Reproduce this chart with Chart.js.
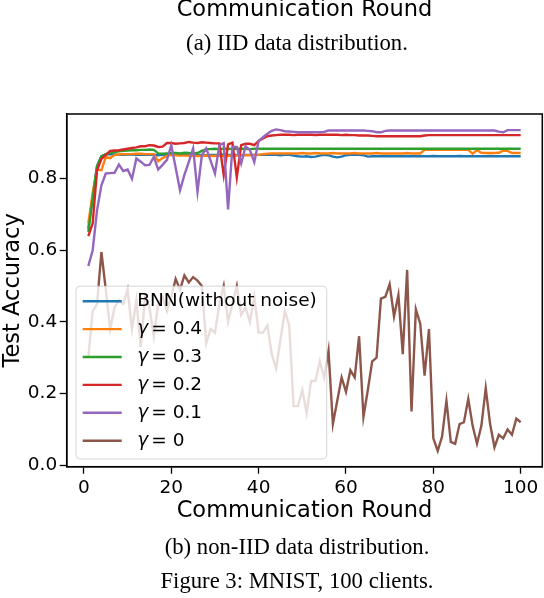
<!DOCTYPE html>
<html lang="en">
<head>
<meta charset="UTF-8">
<title>MNIST, 100 clients</title>
<script src="https://cdn.jsdelivr.net/npm/chart.js"></script>
<style>
  html, body { margin: 0; padding: 0; background: #fff; }
  #wrap { position: relative; width: 544px; height: 598px; }
</style>
</head>
<body>
<div id="wrap"><canvas id="chart" width="544" height="598"></canvas></div>
<script>
// communication rounds 1..100
var rounds = [];
for (var i = 1; i <= 100; i++) rounds.push(i);

var seriesNames = ['BNN(without noise)', '0.4', '0.3', '0.2', '0.1', '0'];
var seriesColors = ['#1f77b4', '#ff7f0e', '#2ca02c', '#d62728', '#9467bd', '#8c564b'];

var bnn = [0.660, 0.750, 0.835, 0.862, 0.867, 0.868, 0.867, 0.866, 0.866, 0.867,
           0.867, 0.866, 0.866, 0.867, 0.866, 0.866, 0.865, 0.866, 0.866, 0.866,
           0.867, 0.866, 0.866, 0.865, 0.866, 0.866, 0.866, 0.865, 0.866, 0.866,
           0.866, 0.867, 0.866, 0.866, 0.866, 0.865, 0.866, 0.866, 0.866, 0.866,
           0.866, 0.866, 0.866, 0.866, 0.865, 0.866, 0.866, 0.864, 0.862, 0.861,
           0.862, 0.860, 0.861, 0.864, 0.866, 0.865, 0.861, 0.859, 0.861, 0.865,
           0.866, 0.866, 0.866, 0.865, 0.861, 0.862, 0.862, 0.862, 0.863, 0.862,
           0.862, 0.862, 0.862, 0.863, 0.862, 0.862, 0.862, 0.862, 0.862, 0.863,
           0.862, 0.862, 0.862, 0.862, 0.862, 0.863, 0.862, 0.862, 0.862, 0.862,
           0.862, 0.862, 0.863, 0.862, 0.862, 0.862, 0.862, 0.862, 0.862, 0.862];

var g04 = [0.675, 0.760, 0.825, 0.823, 0.860, 0.857, 0.866, 0.867, 0.868, 0.868,
           0.868, 0.869, 0.869, 0.868, 0.868, 0.868, 0.848, 0.857, 0.863, 0.866,
           0.865, 0.864, 0.864, 0.864, 0.864, 0.863, 0.863, 0.864, 0.863, 0.863,
           0.864, 0.863, 0.864, 0.863, 0.864, 0.865, 0.865, 0.865, 0.866, 0.866,
           0.868, 0.869, 0.870, 0.870, 0.870, 0.870, 0.870, 0.870, 0.870, 0.871,
           0.870, 0.870, 0.871, 0.870, 0.870, 0.870, 0.871, 0.870, 0.870, 0.870,
           0.870, 0.871, 0.870, 0.870, 0.870, 0.870, 0.871, 0.870, 0.870, 0.870,
           0.870, 0.870, 0.870, 0.871, 0.870, 0.870, 0.870, 0.880, 0.880, 0.880,
           0.880, 0.880, 0.880, 0.880, 0.880, 0.880, 0.880, 0.880, 0.869, 0.879,
           0.872, 0.871, 0.871, 0.871, 0.872, 0.878, 0.877, 0.871, 0.871, 0.871];

var g03 = [0.651, 0.745, 0.835, 0.862, 0.868, 0.872, 0.874, 0.876, 0.877, 0.878,
           0.879, 0.879, 0.880, 0.880, 0.881, 0.880, 0.870, 0.869, 0.870, 0.871,
           0.871, 0.870, 0.872, 0.871, 0.870, 0.871, 0.877, 0.882, 0.882, 0.883,
           0.882, 0.883, 0.883, 0.882, 0.883, 0.883, 0.883, 0.882, 0.883, 0.883,
           0.883, 0.883, 0.883, 0.883, 0.883, 0.883, 0.883, 0.883, 0.883, 0.883,
           0.883, 0.883, 0.883, 0.883, 0.883, 0.883, 0.883, 0.883, 0.883, 0.883,
           0.883, 0.883, 0.883, 0.883, 0.883, 0.883, 0.883, 0.883, 0.883, 0.883,
           0.883, 0.883, 0.883, 0.883, 0.883, 0.883, 0.883, 0.883, 0.883, 0.883,
           0.883, 0.883, 0.883, 0.883, 0.883, 0.883, 0.883, 0.883, 0.883, 0.883,
           0.883, 0.883, 0.883, 0.883, 0.883, 0.883, 0.883, 0.883, 0.883, 0.883];

var g02 = [0.639, 0.675, 0.823, 0.855, 0.866, 0.877, 0.878, 0.879, 0.881, 0.883,
           0.885, 0.887, 0.890, 0.890, 0.893, 0.892, 0.888, 0.889, 0.899, 0.899,
           0.897, 0.898, 0.899, 0.902, 0.900, 0.899, 0.901, 0.900, 0.899, 0.898,
           0.898, 0.810, 0.895, 0.900, 0.803, 0.893, 0.897, 0.897, 0.893, 0.905,
           0.912, 0.918, 0.920, 0.921, 0.922, 0.922, 0.922, 0.921, 0.922, 0.922,
           0.922, 0.922, 0.921, 0.922, 0.922, 0.922, 0.922, 0.922, 0.921, 0.922,
           0.921, 0.921, 0.920, 0.920, 0.920, 0.919, 0.918, 0.918, 0.918, 0.918,
           0.918, 0.918, 0.918, 0.918, 0.918, 0.918, 0.918, 0.920, 0.921, 0.921,
           0.921, 0.921, 0.921, 0.921, 0.921, 0.921, 0.921, 0.921, 0.921, 0.921,
           0.921, 0.921, 0.921, 0.921, 0.921, 0.921, 0.921, 0.921, 0.921, 0.921];

var g01 = [0.556, 0.600, 0.712, 0.781, 0.814, 0.815, 0.816, 0.839, 0.821, 0.825,
           0.799, 0.856, 0.847, 0.837, 0.838, 0.860, 0.825, 0.838, 0.852, 0.893,
           0.830, 0.767, 0.810, 0.846, 0.884, 0.763, 0.865, 0.884, 0.850, 0.814,
           0.893, 0.899, 0.714, 0.888, 0.888, 0.842, 0.890, 0.879, 0.846, 0.905,
           0.915, 0.925, 0.933, 0.937, 0.935, 0.932, 0.931, 0.930, 0.929, 0.929,
           0.929, 0.929, 0.929, 0.929, 0.930, 0.934, 0.934, 0.934, 0.934, 0.934,
           0.934, 0.934, 0.934, 0.934, 0.933, 0.932, 0.929, 0.929, 0.933, 0.934,
           0.934, 0.934, 0.934, 0.934, 0.934, 0.934, 0.934, 0.934, 0.934, 0.934,
           0.934, 0.934, 0.934, 0.934, 0.934, 0.934, 0.934, 0.934, 0.934, 0.934,
           0.934, 0.934, 0.934, 0.934, 0.931, 0.929, 0.935, 0.935, 0.935, 0.935];

var g00 = [0.300, 0.430, 0.450, 0.595, 0.490, 0.380, 0.440, 0.460, 0.450, 0.490,
           0.380, 0.460, 0.330, 0.470, 0.440, 0.360, 0.450, 0.470, 0.430, 0.470,
           0.520, 0.490, 0.530, 0.510, 0.525, 0.515, 0.500, 0.340, 0.380, 0.370,
           0.450, 0.500, 0.400, 0.450, 0.500, 0.420, 0.440, 0.400, 0.470, 0.370,
           0.370, 0.390, 0.310, 0.270, 0.350, 0.430, 0.390, 0.165, 0.165, 0.210,
           0.145, 0.235, 0.235, 0.290, 0.245, 0.320, 0.115, 0.180, 0.245, 0.205,
           0.265, 0.245, 0.360, 0.135, 0.210, 0.290, 0.300, 0.465, 0.470, 0.505,
           0.415, 0.475, 0.310, 0.545, 0.150, 0.435, 0.395, 0.250, 0.380, 0.075,
           0.040, 0.080, 0.180, 0.065, 0.060, 0.115, 0.120, 0.185, 0.110, 0.060,
           0.110, 0.215, 0.115, 0.050, 0.085, 0.075, 0.100, 0.085, 0.130, 0.120];

var xTicks = [0, 20, 40, 60, 80, 100];
var yTicks = [0.0, 0.2, 0.4, 0.6, 0.8];

var allSeries = [bnn, g04, g03, g02, g01, g00];

var sans = '"DejaVu Sans", sans-serif';
var serif = '"Liberation Serif", "Times New Roman", serif';

function toPoints(vals) {
    return rounds.map(function (r, i) { return { x: r, y: vals[i] }; });
}

var datasets = allSeries.map(function (vals, k) {
    return {
        label: seriesNames[k],
        data: toPoints(vals),
        borderColor: seriesColors[k],
        backgroundColor: seriesColors[k],
        borderWidth: 2.4,
        pointRadius: 0,
        tension: 0,
        fill: false,
        // matplotlib draws later lines on top
        order: allSeries.length - k
    };
});

// four spines round the plot area
var spines = {
    id: 'spines',
    afterDatasetsDraw: function (chart) {
        var a = chart.chartArea, ctx = chart.ctx;
        ctx.save();
        ctx.strokeStyle = '#000';
        ctx.lineWidth = 1.5;
        ctx.strokeRect(a.left, a.top, a.right - a.left, a.bottom - a.top);
        ctx.restore();
    }
};

// legend in the lower left, semi transparent like matplotlib
var boxLegend = {
    id: 'boxLegend',
    afterDatasetsDraw: function (chart) {
        var a = chart.chartArea, ctx = chart.ctx;
        var fs = 18.5;
        var rowH = 27.9;
        ctx.save();
        ctx.font = fs + 'px ' + sans;
        var maxW = 0;
        chart.data.datasets.forEach(function (ds, k) {
            var w = k === 0 ? ctx.measureText(ds.label).width
                            : ctx.measureText('γ = ' + ds.label).width;
            if (w > maxW) maxW = w;
        });
        var left = a.left + 9.3;
        var bottom = a.bottom - 7.7;
        var height = 15 + rowH * 5 + 18.3;
        var top = bottom - height;
        var width = 61.3 + maxW + 10;

        ctx.beginPath();
        ctx.roundRect(left, top, width, height, 4);
        ctx.fillStyle = 'rgba(255,255,255,0.8)';
        ctx.fill();
        ctx.strokeStyle = 'rgba(204,204,204,0.8)';
        ctx.lineWidth = 1;
        ctx.stroke();

        ctx.textBaseline = 'middle';
        ctx.textAlign = 'left';
        chart.data.datasets.forEach(function (ds, k) {
            var y = top + 15 + rowH * k;
            ctx.beginPath();
            ctx.moveTo(left + 6.7, y);
            ctx.lineTo(left + 45.7, y);
            ctx.strokeStyle = ds.borderColor;
            ctx.lineWidth = 2.4;
            ctx.stroke();
            ctx.fillStyle = '#000';
            var tx = left + 61.3;
            if (k === 0) {
                ctx.font = fs + 'px ' + sans;
                ctx.fillText(ds.label, tx, y);
            } else {
                ctx.font = 'italic ' + fs + 'px ' + sans;
                ctx.fillText('γ', tx, y);
                var gw = ctx.measureText('γ').width;
                ctx.font = fs + 'px ' + sans;
                ctx.fillText('= ' + ds.label, tx + gw + 3, y);
            }
        });
        ctx.restore();
    }
};

// subfigure captions around the plot
var captions = {
    id: 'captions',
    afterDraw: function (chart) {
        var ctx = chart.ctx;
        var cx = (chart.chartArea.left + chart.chartArea.right) / 2;
        ctx.save();
        ctx.fillStyle = '#000';
        ctx.textAlign = 'center';
        ctx.textBaseline = 'alphabetic';
        ctx.font = '22.5px ' + sans;
        ctx.fillText('Communication Round', cx, 16);
        ctx.font = '22.7px ' + serif;
        ctx.fillText('(a) IID data distribution.', 297, 50);
        ctx.fillText('(b) non-IID data distribution.', 297, 553.5);
        ctx.fillText('Figure 3: MNIST, 100 clients.', 297, 587.5);
        ctx.restore();
    }
};

var tickFont = { family: sans, size: 18.5 };

new Chart(document.getElementById('chart').getContext('2d'), {
    type: 'line',
    data: { datasets: datasets },
    options: {
        responsive: false,
        animation: false,
        events: [],
        layout: { padding: { top: 114, right: 1.7, bottom: 68, left: 0 } },
        plugins: {
            legend: { display: false },
            tooltip: { enabled: false }
        },
        scales: {
            x: {
                type: 'linear',
                min: -3.95,
                max: 104.95,
                afterBuildTicks: function (axis) {
                    axis.ticks = xTicks.map(function (v) { return { value: v }; });
                },
                afterFit: function (axis) { axis.height = 63.3; },
                grid: {
                    display: true, drawOnChartArea: false, drawTicks: true,
                    tickLength: 7, tickColor: '#000', tickWidth: 1.3
                },
                border: { display: true, color: '#000', width: 1.5 },
                ticks: {
                    color: '#000', font: tickFont, padding: 3,
                    maxRotation: 0, autoSkip: false,
                    callback: function (v) { return String(v); }
                },
                title: {
                    display: true, text: 'Communication Round', color: '#000',
                    font: { family: sans, size: 22.5 }, padding: { top: 0, bottom: 5.8 }
                }
            },
            y: {
                type: 'linear',
                min: -0.004,
                max: 0.980,
                afterBuildTicks: function (axis) {
                    axis.ticks = yTicks.map(function (v) { return { value: v }; });
                },
                afterFit: function (axis) { axis.width = 66.7; },
                grid: {
                    display: true, drawOnChartArea: false, drawTicks: true,
                    tickLength: 7, tickColor: '#000', tickWidth: 1.3
                },
                border: { display: true, color: '#000', width: 1.5 },
                ticks: {
                    color: '#000', font: tickFont, padding: 2.5, autoSkip: false,
                    callback: function (v) { return Number(v).toFixed(1); }
                },
                title: {
                    display: true, text: 'Test Accuracy', color: '#000',
                    font: { family: sans, size: 22.5 }, padding: { top: 0, bottom: 0 }
                }
            }
        }
    },
    plugins: [spines, boxLegend, captions]
});
</script>
</body>
</html>
